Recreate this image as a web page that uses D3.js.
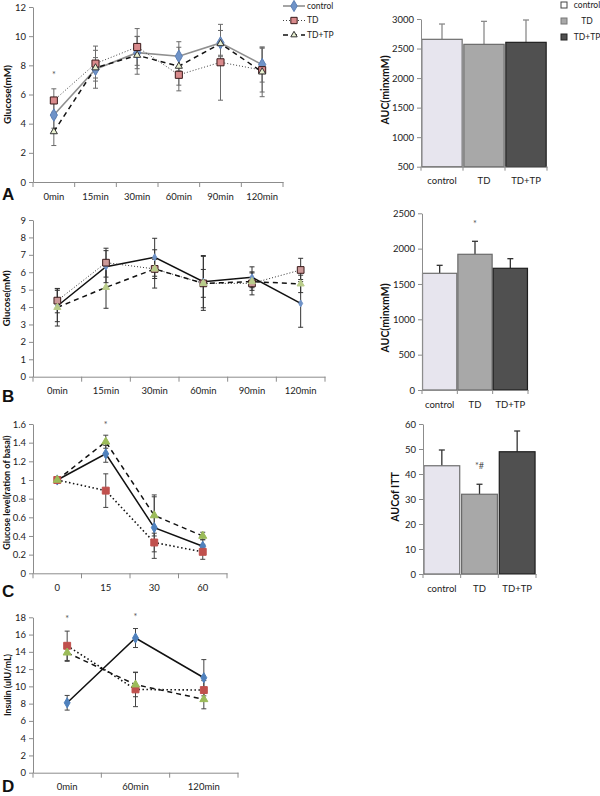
<!DOCTYPE html>
<html>
<head>
<meta charset="utf-8">
<title>Glucose tolerance, insulin tolerance and insulin</title>
<script src="https://cdnjs.cloudflare.com/ajax/libs/d3/7.8.5/d3.min.js"></script>
<style>
	body { margin:0; background:#fff; }
	svg { font-family: Lato, "Open Sans", sans-serif; }
	.axis path, .axis line { stroke:#8c8c8c; }
	.axis text { font-size:9.5px; fill:#222; font-family: Lato, "Open Sans", sans-serif; }
	.ylab { font-size:10px; font-weight:bold; fill:#111; }
	.letter { font-family:"Liberation Sans", Arial, sans-serif; font-weight:bold; font-size:17px; fill:#111; }
	.star { font-size:9px; fill:#555; }
	.legend text { font-size:8.5px; fill:#222; }
</style>
</head>
<body>
<script>
var groups = ["control", "TD", "TD+TP"];

// A: glucose tolerance
var timesA = ["0min", "15min", "30min", "60min", "90min", "120min"];
var glucA_control = [4.59, 7.73, 8.87, 8.62, 9.54, 8.05];
var glucA_controlErr = [0.9, 1.3, 1.1, 1.0, 0.85, 1.2];
var glucA_TD = [5.59, 8.12, 9.26, 7.35, 8.21, 7.67];
var glucA_TDErr = [0.8, 1.2, 1.26, 1.1, 2.6, 1.5];
var glucA_TDTP = [3.45, 7.83, 8.69, 7.94, 9.49, 7.55];
var glucA_TDTPErr = [0.95, 0.7, 1.3, 1.3, 0.9, 1.7];
var aucA = [2656, 2571, 2605];
var aucAErr = [259, 389, 378];

// B: glucose tolerance (second test)
var timesB = ["0min", "15min", "30min", "60min", "90min", "120min"];
var glucB_control = [4.06, 6.32, 6.86, 5.46, 5.71, 4.21];
var glucB_controlErr = [0.9, 0.92, 1.09, 1.5, 0.6, 1.37];
var glucB_TD = [4.37, 6.55, 6.19, 5.36, 5.36, 6.13];
var glucB_TDErr = [0.7, 0.83, 1.1, 0.8, 0.66, 0.67];
var glucB_TDTP = [3.98, 5.13, 6.19, 5.36, 5.46, 5.33];
var glucB_TDTPErr = [1.07, 1.2, 0.55, 1.55, 0.5, 0.5];
var aucB = [1651, 1920, 1722];
var aucBErr = [113, 184, 136];

// C: insulin tolerance
var timesC = ["0", "15", "30", "60"];
var ratioC_control = [1, 1.28, 0.49, 0.29];
var ratioC_controlErr = [0, 0.09, 0.33, 0.07];
var ratioC_TD = [1, 0.886, 0.33, 0.23];
var ratioC_TDErr = [0, 0.18, 0.1, 0.08];
var ratioC_TDTP = [1, 1.41, 0.62, 0.40];
var ratioC_TDTPErr = [0, 0.07, 0.22, 0.04];
var aucC = [43.3, 31.9, 48.9];
var aucCErr = [6.3, 4.0, 8.3];

// D: insulin
var timesD = ["0min", "60min", "120min"];
var insD_control = [8.1, 15.6, 11.0];
var insD_controlErr = [0.85, 1.1, 2.1];
var insD_TD = [14.7, 9.65, 9.57];
var insD_TDErr = [1.7, 2.0, 1.1];
var insD_TDTP = [13.9, 10.2, 8.5];
var insD_TDTPErr = [1.0, 1.4, 1.1];

var svg = d3.select("body").append("svg")
	.attr("width", 600)
	.attr("height", 796);

// marker / line styles: panel A is greyish, the others use the default office colours
var styleA = [
	{ line:"#8f8f8f", width:1.6, dash:null, sym:d3.symbolDiamond, size:45, fill:"#6f93c8", edge:"#5b7fb5" },
	{ line:"#444", width:1, dash:"1,2", sym:d3.symbolSquare, size:50, fill:"#d98a8c", edge:"#3a1a1a" },
	{ line:"#111", width:1.5, dash:"5,4", sym:d3.symbolTriangle, size:22, fill:"#e8f0d0", edge:"#333" }
];
var styleB = [
	{ line:"#111", width:1.5, dash:null, sym:d3.symbolDiamond, size:14, fill:"#6f93c8", edge:"#6f93c8" },
	{ line:"#333", width:1, dash:"1,2", sym:d3.symbolSquare, size:45, fill:"#c99", edge:"#3a1a1a" },
	{ line:"#111", width:1.5, dash:"5,4", sym:d3.symbolTriangle, size:22, fill:"#b9cc8a", edge:"#b9cc8a" }
];
var styleC = [
	{ line:"#111", width:1.5, dash:null, sym:d3.symbolDiamond, size:30, fill:"#4f81bd", edge:"#4f81bd" },
	{ line:"#111", width:1.6, dash:"1.5,2.5", sym:d3.symbolSquare, size:48, fill:"#c0504d", edge:"#c0504d" },
	{ line:"#111", width:1.5, dash:"5,4", sym:d3.symbolTriangle, size:28, fill:"#9bbb59", edge:"#9bbb59" }
];

function linePanel(cfg) {
	var g = svg.append("g");
	var x = d3.scaleBand().domain(cfg.cats).range([cfg.x0, cfg.x1]);
	var y = d3.scaleLinear().domain(cfg.ydom).range([cfg.yb, cfg.yt]);
	var cx = function(c) { return x(c) + x.bandwidth() / 2; };

	g.append("g").attr("class", "axis")
		.attr("transform", "translate(" + cfg.x0 + ",0)")
		.call(d3.axisLeft(y).tickValues(d3.range(cfg.ydom[0], cfg.ydom[1] + cfg.step / 2, cfg.step))
			.tickFormat(cfg.fmt || d3.format("")).tickSize(4).tickSizeOuter(0).tickPadding(3));

	var xa = g.append("g").attr("class", "axis")
		.attr("transform", "translate(0," + cfg.yb + ")")
		.call(d3.axisBottom(x).tickSize(0).tickSizeOuter(0).tickPadding(11));
	xa.selectAll(".bound").data(cfg.cats.concat([null])).enter().append("line")
		.attr("class", "bound")
		.attr("x1", function(c) { return c === null ? cfg.x1 : x(c); })
		.attr("x2", function(c) { return c === null ? cfg.x1 : x(c); })
		.attr("y1", 0).attr("y2", 5);

	cfg.series.forEach(function(s, i) {
		var pts = cfg.cats.map(function(c, k) { return { c:c, v:s.v[k], e:s.e[k] }; });
		// error bars
		var eb = g.append("g").attr("stroke", cfg.errColor).attr("stroke-width", 1);
		pts.forEach(function(p) {
			if (!p.e) return;
			eb.append("line").attr("x1", cx(p.c)).attr("x2", cx(p.c))
				.attr("y1", y(p.v - p.e)).attr("y2", y(p.v + p.e));
			[p.v - p.e, p.v + p.e].forEach(function(t) {
				eb.append("line").attr("x1", cx(p.c) - 2.5).attr("x2", cx(p.c) + 2.5)
					.attr("y1", y(t)).attr("y2", y(t));
			});
		});
		s.pts = pts;
	});

	cfg.series.forEach(function(s, i) {
		var st = cfg.style[i];
		g.append("path")
			.attr("d", d3.line().x(function(p) { return cx(p.c); }).y(function(p) { return y(p.v); })(s.pts))
			.attr("fill", "none").attr("stroke", st.line).attr("stroke-width", st.width)
			.attr("stroke-dasharray", st.dash);
	});

	cfg.series.forEach(function(s, i) {
		var st = cfg.style[i];
		g.selectAll(null).data(s.pts).enter().append("path")
			.attr("transform", function(p) { return "translate(" + cx(p.c) + "," + y(p.v) + ")"; })
			.attr("d", d3.symbol().type(st.sym).size(st.size))
			.attr("fill", st.fill).attr("stroke", st.edge).attr("stroke-width", 1);
	});

	(cfg.stars || []).forEach(function(s) {
		g.append("text").attr("class", "star")
			.attr("x", cx(s.c)).attr("y", y(s.at)).attr("text-anchor", "middle").text("*");
	});

	g.append("text").attr("class", "ylab")
		.attr("transform", "translate(" + cfg.labX + "," + ((cfg.yb + cfg.yt) / 2 + (cfg.labShift || 0)) + ") rotate(-90)")
		.attr("text-anchor", "middle")
		.attr("dy", "0.35em")
		.style("font-size", cfg.labSize)
		.text(cfg.ylabel);
}

function barPanel(cfg) {
	var g = svg.append("g");
	var x = d3.scaleBand().domain(groups).range([cfg.x0, cfg.x1]).paddingInner(cfg.pad).paddingOuter(cfg.pad / 2);
	var y = d3.scaleLinear().domain(cfg.ydom).range([cfg.yb, cfg.yt]);
	var fills = ["#e7e5ee", "#a8a8a8", "#505050"];
	var edges = ["#6e6e6e", "#6a6a6a", "#1e1e1e"];

	g.selectAll(null).data(cfg.vals).enter().append("line")
		.attr("x1", function(d, i) { return x(groups[i]) + x.bandwidth() / 2; })
		.attr("x2", function(d, i) { return x(groups[i]) + x.bandwidth() / 2; })
		.attr("y1", function(d) { return y(d); })
		.attr("y2", function(d, i) { return y(d + cfg.errs[i]); })
		.attr("stroke", cfg.errColor).attr("stroke-width", 1.3);
	g.selectAll(null).data(cfg.vals).enter().append("line")
		.attr("x1", function(d, i) { return x(groups[i]) + x.bandwidth() / 2 - 3; })
		.attr("x2", function(d, i) { return x(groups[i]) + x.bandwidth() / 2 + 3; })
		.attr("y1", function(d, i) { return y(d + cfg.errs[i]); })
		.attr("y2", function(d, i) { return y(d + cfg.errs[i]); })
		.attr("stroke", cfg.errColor).attr("stroke-width", 1.3);

	g.selectAll("rect").data(cfg.vals).enter().append("rect")
		.attr("x", function(d, i) { return x(groups[i]); })
		.attr("width", x.bandwidth())
		.attr("y", function(d) { return y(d); })
		.attr("height", function(d) { return cfg.yb - y(d); })
		.attr("fill", function(d, i) { return fills[i]; })
		.attr("stroke", function(d, i) { return edges[i]; })
		.attr("stroke-width", 1.2);

	g.append("g").attr("class", "axis")
		.attr("transform", "translate(" + cfg.x0 + ",0)")
		.call(d3.axisLeft(y).tickValues(d3.range(cfg.ydom[0], cfg.ydom[1] + 1e-9, cfg.step))
			.tickFormat(d3.format("")).tickSize(4).tickSizeOuter(0).tickPadding(3));
	var xa = g.append("g").attr("class", "axis")
		.attr("transform", "translate(0," + cfg.yb + ")")
		.call(d3.axisBottom(x).tickSize(0).tickSizeOuter(0).tickPadding(11));
	xa.selectAll(".bound").data(groups.concat([null])).enter().append("line")
		.attr("class", "bound")
		.attr("x1", function(c) { return c === null ? cfg.x1 : x(c) - x.step() * cfg.pad / 2; })
		.attr("x2", function(c) { return c === null ? cfg.x1 : x(c) - x.step() * cfg.pad / 2; })
		.attr("y1", 0).attr("y2", 4);

	(cfg.stars || []).forEach(function(s) {
		g.append("text").attr("class", "star")
			.attr("x", x(groups[s.i]) + x.bandwidth() / 2).attr("y", y(s.at))
			.attr("text-anchor", "middle").text(s.t);
	});

	g.append("text").attr("class", "ylab")
		.attr("transform", "translate(" + cfg.labX + "," + cfg.labY + ") rotate(-90)")
		.attr("text-anchor", "middle")
		.attr("dy", "0.35em")
		.style("font-size", "10.5px")
		.text(cfg.ylabel);
}

function series(v1, e1, v2, e2, v3, e3) {
	return [{ v:v1, e:e1 }, { v:v2, e:e2 }, { v:v3, e:e3 }];
}

// panel A
linePanel({ cats:timesA, x0:33, x1:283, ydom:[0, 12], yb:182, yt:7, step:2,
	series:series(glucA_control, glucA_controlErr, glucA_TD, glucA_TDErr, glucA_TDTP, glucA_TDTPErr),
	style:styleA, errColor:"#6a6a6a", stars:[{ c:"0min", at:7.1 }],
	ylabel:"Glucose(mM)", labX:7, labSize:"10px" });
barPanel({ x0:421, x1:547, ydom:[500, 3000], yb:166.7, yt:19, step:500, pad:0.04,
	vals:aucA, errs:aucAErr, errColor:"#8a8a8a", ylabel:"AUC(minxmM)", labX:385, labY:90 });

// panel B
linePanel({ cats:timesB, x0:33, x1:325, ydom:[0, 9], yb:376.7, yt:220, step:1,
	series:series(glucB_control, glucB_controlErr, glucB_TD, glucB_TDErr, glucB_TDTP, glucB_TDTPErr),
	style:styleB, errColor:"#333", ylabel:"Glucose(mM)", labX:7, labSize:"9.5px" });
barPanel({ x0:422, x1:528, ydom:[0, 2500], yb:390, yt:213.3, step:500, pad:0.03,
	vals:aucB, errs:aucBErr, errColor:"#333", stars:[{ i:1, at:2300, t:"*" }],
	ylabel:"AUC(minxmM)", labX:385, labY:318 });

// panel C
linePanel({ cats:timesC, x0:33, x1:227, ydom:[0, 1.6], yb:573.3, yt:424, step:0.2, fmt:d3.format("~g"),
	series:series(ratioC_control, ratioC_controlErr, ratioC_TD, ratioC_TDErr, ratioC_TDTP, ratioC_TDTPErr),
	style:styleC, errColor:"#444", stars:[{ c:"15", at:1.56 }],
	ylabel:"Glucose level(ration of basal)", labX:7, labSize:"9px", labShift:-6 });
barPanel({ x0:423, x1:536, ydom:[0, 60], yb:574, yt:424, step:10, pad:0.05,
	vals:aucC, errs:aucCErr, errColor:"#333", stars:[{ i:1, at:42, t:"*#" }],
	ylabel:"AUCof ITT", labX:395, labY:497 });

// panel D
linePanel({ cats:timesD, x0:33, x1:238, ydom:[0, 18], yb:772.7, yt:617.3, step:2,
	series:series(insD_control, insD_controlErr, insD_TD, insD_TDErr, insD_TDTP, insD_TDTPErr),
	style:styleC, errColor:"#444", stars:[{ c:"0min", at:17.4 }, { c:"60min", at:17.7 }],
	ylabel:"Insulin (uIU/mL)", labX:8, labSize:"8.8px", labShift:-10 });

// legend of A (lines)
var lg = svg.append("g").attr("class", "legend");
groups.forEach(function(name, i) {
	var st = styleA[i], yy = 6 + i * 14.5;
	lg.append("line").attr("x1", 283).attr("x2", 305).attr("y1", yy).attr("y2", yy)
		.attr("stroke", st.line).attr("stroke-width", st.width).attr("stroke-dasharray", st.dash);
	lg.append("path").attr("transform", "translate(294," + yy + ")")
		.attr("d", d3.symbol().type(st.sym).size(st.size * 0.8))
		.attr("fill", st.fill).attr("stroke", st.edge);
	lg.append("text").attr("x", 307).attr("y", yy).attr("dy", "0.35em").text(name);
});

// legend of the bars
var bg = svg.append("g").attr("class", "legend");
var sqFill = ["#ffffff", "#a8a8a8", "#505050"];
var sqEdge = ["#444", "#777", "#222"];
groups.forEach(function(name, i) {
	var yy = 5 + i * 16;
	bg.append("rect").attr("x", 561).attr("y", yy - 3).attr("width", 6).attr("height", 6)
		.attr("fill", sqFill[i]).attr("stroke", sqEdge[i]);
	bg.append("text").attr("x", 587).attr("y", yy).attr("dy", "0.35em")
		.attr("text-anchor", "middle").text(name);
});

// panel letters
[["A", 200], ["B", 402], ["C", 597], ["D", 792]].forEach(function(l) {
	svg.append("text").attr("class", "letter").attr("x", 2).attr("y", l[1]).text(l[0]);
});
</script>
</body>
</html>
